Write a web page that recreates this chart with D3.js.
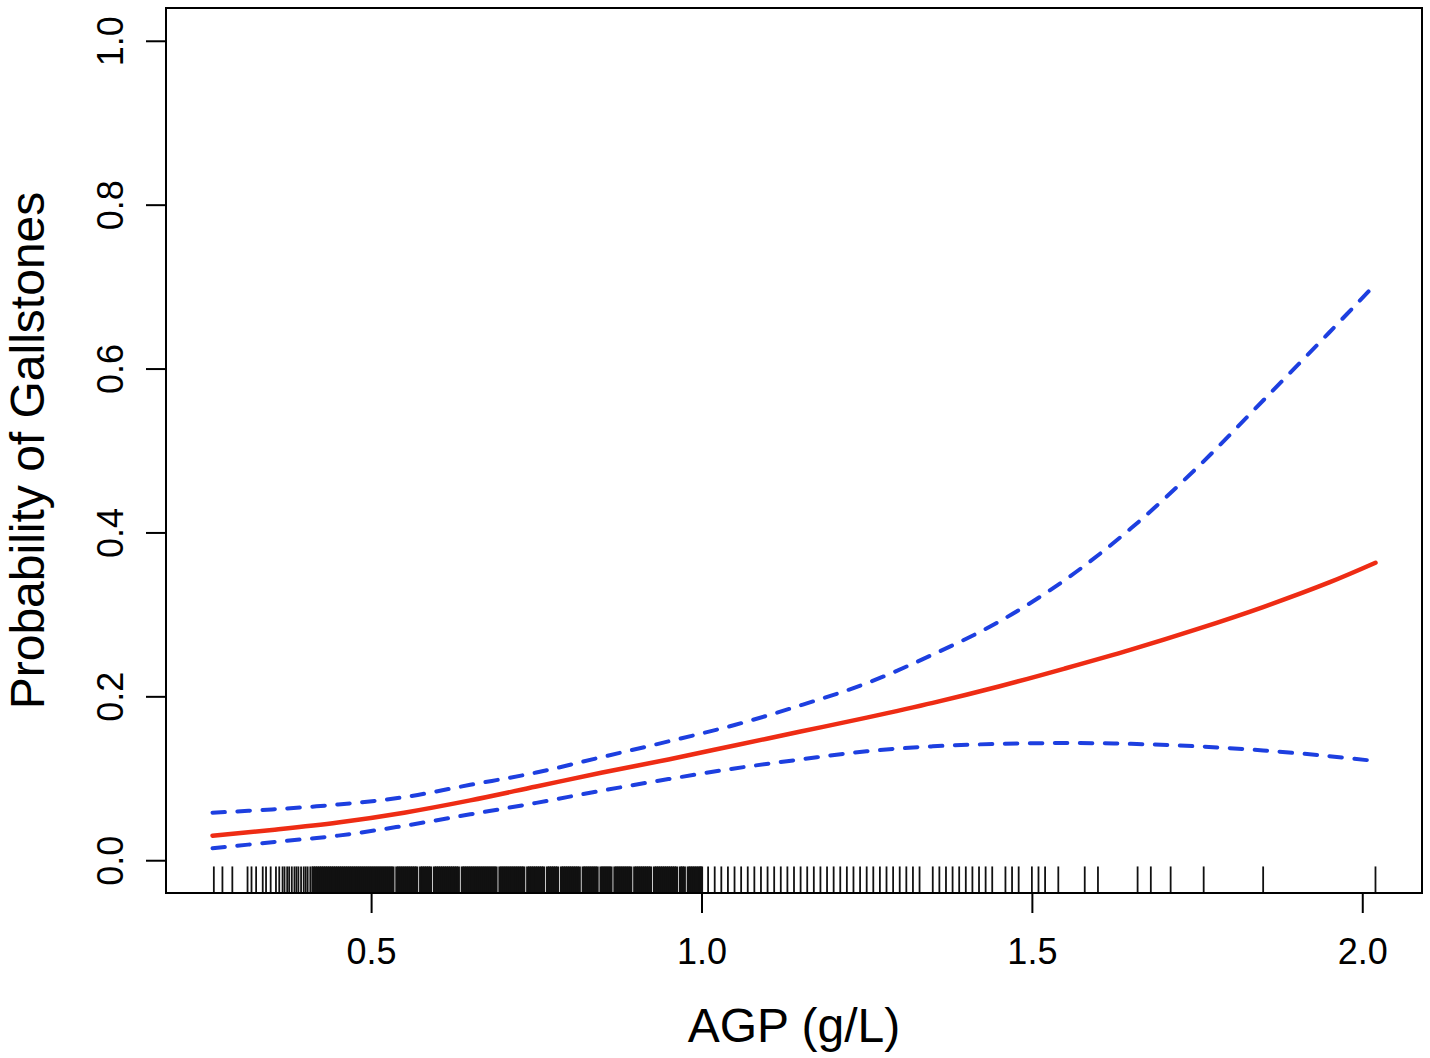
<!DOCTYPE html>
<html>
<head>
<meta charset="utf-8">
<script src="https://cdn.jsdelivr.net/npm/d3@7"></script>
<style>
    html, body { margin: 0; padding: 0; background: #fff; }
    #chart { width: 1430px; height: 1058px; }
</style>
</head>
<body>
<div id="chart"></div>
<script>
const agp = [0.26, 0.35, 0.45, 0.55, 0.65, 0.75, 0.85, 0.95, 1.05, 1.15,
             1.25, 1.35, 1.45, 1.55, 1.65, 1.75, 1.85, 1.95, 2.02];

// Fitted probability and 95% CI bounds
const fit   = [0.030, 0.037, 0.046, 0.058, 0.073, 0.090, 0.107, 0.123, 0.140, 0.157,
               0.174, 0.192, 0.212, 0.234, 0.257, 0.282, 0.309, 0.339, 0.363];
const upper = [0.058, 0.062, 0.068, 0.077, 0.092, 0.107, 0.126, 0.145, 0.165, 0.189,
               0.216, 0.251, 0.291, 0.342, 0.405, 0.479, 0.561, 0.644, 0.703];
const lower = [0.0145, 0.022, 0.030, 0.042, 0.056, 0.070, 0.085, 0.099, 0.112, 0.123,
               0.133, 0.139, 0.142, 0.143, 0.142, 0.139, 0.134, 0.127, 0.121];

// Rug of observed AGP values (g/L), in thousandths
const rugLow = [262, 275, 290, 313, 319, 326, 336, 341, 348, 356, 361,
    366, 369, 373, 376, 380, 384, 387, 390, 394, 398, 401, 404, 408, 411];
const rugDense = [413, 416, 419, 422, 425, 428, 431, 434, 437, 440, 443, 446, 449, 452, 455,
    458, 461, 464, 467, 470, 473, 476, 479, 482, 485, 488, 491, 494, 497, 500, 503, 506,
    509, 512, 515, 518, 521, 524, 527, 530, 533, 539, 542, 545, 548, 551, 554, 557, 560,
    563, 566, 569, 575, 578, 581, 584, 587, 590, 596, 599, 602, 605, 608, 611, 614, 617,
    620, 623, 626, 629, 632, 638, 641, 644, 647, 650, 653, 656, 659, 662, 665, 668, 671,
    674, 677, 680, 683, 686, 689, 695, 698, 701, 704, 707, 710, 713, 716, 719, 722, 725,
    728, 731, 737, 740, 743, 746, 749, 752, 755, 758, 761, 767, 770, 773, 776, 779, 782,
    788, 791, 794, 797, 800, 803, 806, 809, 812, 815, 821, 824, 827, 830, 833, 836, 839,
    842, 848, 851, 854, 857, 860, 863, 869, 872, 875, 878, 881, 884, 887, 890, 893, 899,
    902, 905, 908, 911, 914, 917, 920, 923, 929, 932, 935, 938, 941, 944, 947, 950, 953,
    956, 959, 962, 968, 971, 974, 980, 983, 986, 989, 992, 995, 998, 1000];
const rugHigh = [1010, 1020, 1030, 1040, 1050, 1060, 1070, 1080, 1090, 1100, 1110, 1120,
    1130, 1140, 1150, 1160, 1170, 1180, 1190, 1200, 1210, 1220, 1230, 1240, 1250, 1260,
    1270, 1280, 1290, 1300, 1310, 1320, 1330, 1350, 1360, 1370, 1380, 1390, 1400, 1410,
    1420, 1430, 1440, 1460, 1470, 1480, 1500, 1510, 1520, 1540, 1580, 1600, 1660, 1680,
    1710, 1760, 1850, 2020];

// Axis ticks and titles
const xTicks = [0.5, 1.0, 1.5, 2.0];
const yTicks = [0.0, 0.2, 0.4, 0.6, 0.8, 1.0];
const xTitle = 'AGP (g/L)';
const yTitle = 'Probability of Gallstones';

function renderChart() {
    const width = 1430;
    const height = 1058;
    const margin = { top: 8, right: 8, bottom: 165, left: 166 };
    const font = '"Liberation Sans", Arial, Helvetica, sans-serif';

    const svg = d3.select('#chart').append('svg')
        .attr('width', width)
        .attr('height', height);

    // R-style 4% extension of the data range
    const xMin = 0.26, xMax = 2.02;
    const xPad = (xMax - xMin) * 0.04;
    const x = d3.scaleLinear()
        .domain([xMin - xPad, xMax + xPad])
        .range([margin.left, width - margin.right]);
    const y = d3.scaleLinear()
        .domain([-0.04, 1.04])
        .range([height - margin.bottom, margin.top]);

    const bottomY = height - margin.bottom;

    // Rug marks along the bottom of the plot (dense block drawn a bit wider)
    const rugLen = (height - margin.bottom - margin.top) * 0.03;
    const rug = [
        ...rugLow.map(v => ({ v: v / 1000, w: 1.8 })),
        ...rugDense.map(v => ({ v: v / 1000, w: 3.2 })),
        ...rugHigh.map(v => ({ v: v / 1000, w: 1.8 }))
    ];
    svg.append('g')
        .selectAll('line')
        .data(rug)
        .join('line')
        .attr('x1', d => x(d.v))
        .attr('x2', d => x(d.v))
        .attr('y1', bottomY)
        .attr('y2', bottomY - rugLen)
        .attr('stroke', '#111')
        .attr('stroke-width', d => d.w);

    const rows = agp.map((a, i) => ({ a, fit: fit[i], upper: upper[i], lower: lower[i] }));
    const line = key => d3.line()
        .x(d => x(d.a))
        .y(d => y(d[key]))
        .curve(d3.curveCatmullRom);

    // Confidence bounds (dashed blue)
    ['upper', 'lower'].forEach(key => {
        svg.append('path')
            .datum(rows)
            .attr('d', line(key))
            .attr('fill', 'none')
            .attr('stroke', '#1d3fe0')
            .attr('stroke-width', 4)
            .attr('stroke-linecap', 'round')
            .attr('stroke-dasharray', '12.5,12.5');
    });

    // Fitted curve (solid red)
    svg.append('path')
        .datum(rows)
        .attr('d', line('fit'))
        .attr('fill', 'none')
        .attr('stroke', '#ee2c14')
        .attr('stroke-width', 4.5)
        .attr('stroke-linecap', 'round');

    // X axis ticks + labels
    const xAxis = svg.append('g')
        .attr('transform', `translate(0,${bottomY})`)
        .call(d3.axisBottom(x).tickValues(xTicks).tickSize(20).tickSizeOuter(0)
            .tickFormat(d3.format('.1f')));
    xAxis.select('.domain').remove();
    xAxis.selectAll('.tick line').attr('stroke', '#000').attr('stroke-width', 2);
    xAxis.selectAll('.tick text')
        .attr('y', 71)
        .attr('dy', null)
        .attr('font-family', font)
        .attr('font-size', 36)
        .attr('fill', '#000');

    // Y axis ticks + rotated labels
    const yAxis = svg.append('g')
        .attr('transform', `translate(${margin.left},0)`)
        .call(d3.axisLeft(y).tickValues(yTicks).tickSize(20).tickSizeOuter(0)
            .tickFormat(d3.format('.1f')));
    yAxis.select('.domain').remove();
    yAxis.selectAll('.tick line').attr('stroke', '#000').attr('stroke-width', 2);
    yAxis.selectAll('.tick text')
        .attr('x', null)
        .attr('dy', null)
        .attr('transform', 'translate(-43,0) rotate(-90)')
        .attr('text-anchor', 'middle')
        .attr('font-family', font)
        .attr('font-size', 36)
        .attr('fill', '#000');

    // Plot box
    svg.append('rect')
        .attr('x', margin.left)
        .attr('y', margin.top)
        .attr('width', width - margin.left - margin.right)
        .attr('height', height - margin.top - margin.bottom)
        .attr('fill', 'none')
        .attr('stroke', '#000')
        .attr('stroke-width', 2);

    // Axis titles
    svg.append('text')
        .attr('x', (margin.left + width - margin.right) / 2)
        .attr('y', 1042)
        .attr('text-anchor', 'middle')
        .attr('font-family', font)
        .attr('font-size', 48)
        .attr('fill', '#000')
        .text(xTitle);

    svg.append('text')
        .attr('transform', `translate(44,${(margin.top + bottomY) / 2}) rotate(-90)`)
        .attr('text-anchor', 'middle')
        .attr('font-family', font)
        .attr('font-size', 48)
        .attr('fill', '#000')
        .text(yTitle);
}

renderChart();
</script>
</body>
</html>
